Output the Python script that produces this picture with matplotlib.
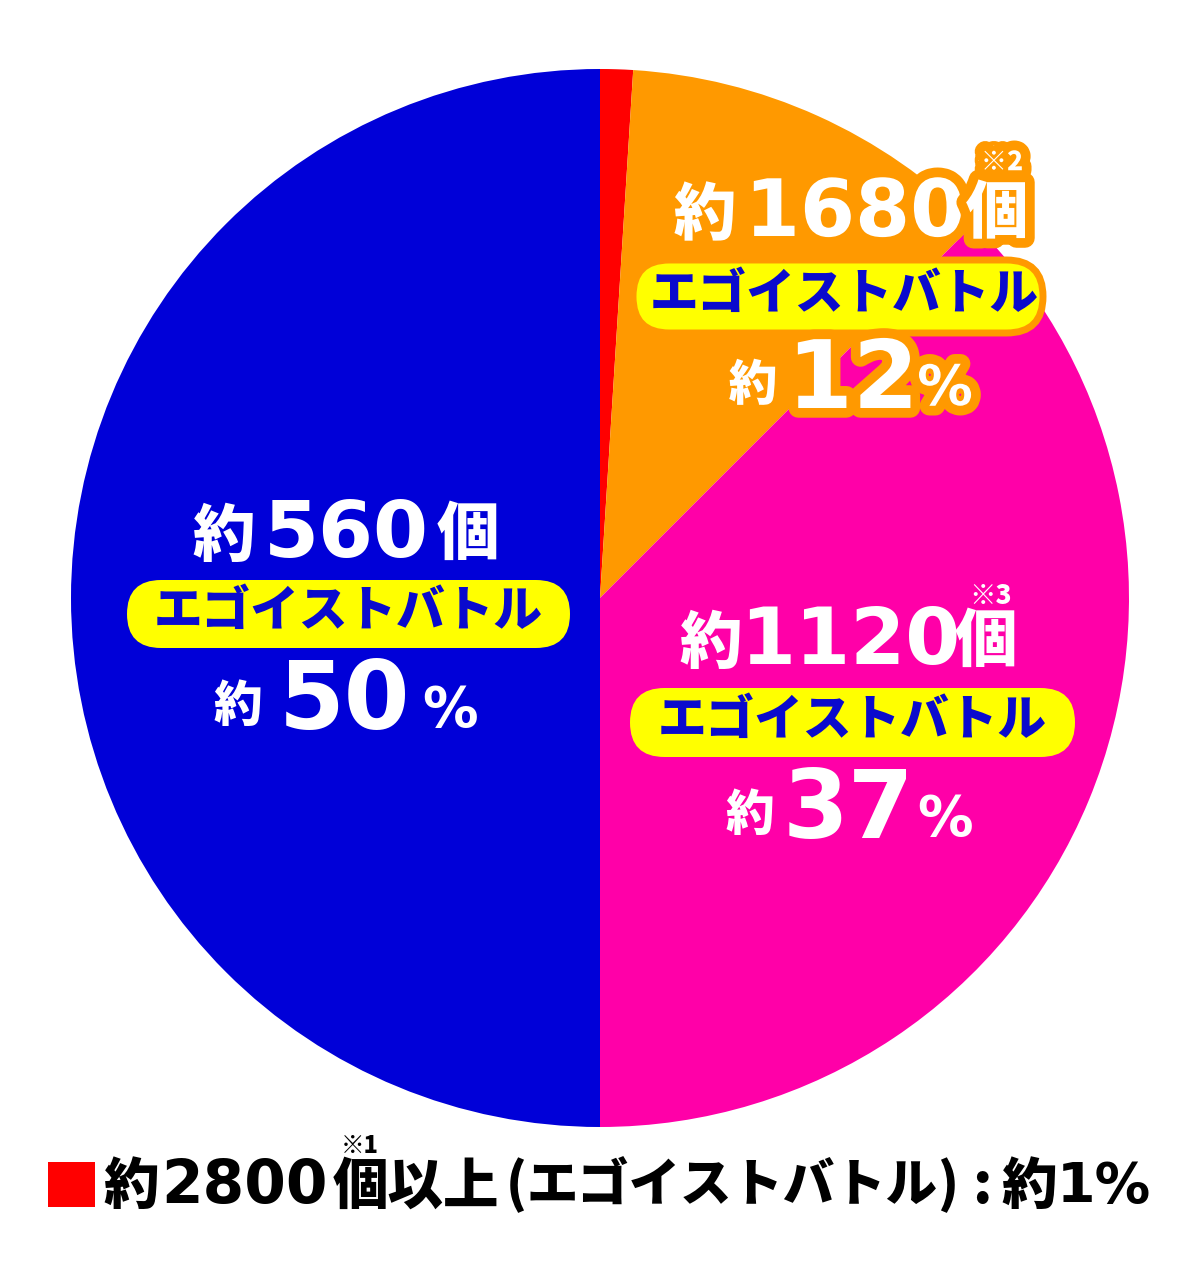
import matplotlib
matplotlib.use("Agg")
import matplotlib.pyplot as plt
from matplotlib.patches import FancyBboxPatch, Rectangle
import matplotlib.patheffects as pe

# data (share of the pie, clockwise from 12 o'clock)
categories = ["2800個以上", "1680個", "1120個", "560個"]
shares = [1, 11.5, 37.5, 50]
counts = ["2800", "1680", "1120", "560"]
pct_labels = ["1", "12", "37", "50"]
notes = ["※1", "※2", "※3", ""]
colors = ["#FF0000", "#FF9900", "#FF00A8", "#0000D8"]
battle = "エゴイストバトル"

W, H = 1200, 1284
CJK = "Noto Sans CJK JP"
NUM = "DejaVu Sans"

fig = plt.figure(figsize=(W / 100, H / 100), dpi=100)
ax = fig.add_axes([0, 0, 1, 1])

ax.pie(shares, colors=colors, startangle=90, counterclock=False,
       center=(600, H - 598), radius=529, wedgeprops=dict(linewidth=0))
ax.set_xlim(0, W)
ax.set_ylim(0, H)
ax.set_aspect("equal")
ax.axis("off")


def put(x, y, s, size, color="white", family=CJK, weight="black", stroke=None, z=5):
    t = ax.text(x, H - y, s, fontsize=size, color=color, family=family,
                weight=weight, ha="center", va="center", zorder=z)
    if stroke:
        t.set_path_effects([pe.withStroke(linewidth=14, foreground=stroke)])
    return t


def pill(x0, x1, y0, y1, edge=None):
    h = y1 - y0
    p = FancyBboxPatch((x0, H - y1), x1 - x0, h,
                       boxstyle=f"round,pad=0,rounding_size={h / 2}",
                       facecolor="#FFFF00", edgecolor=edge or "none",
                       linewidth=5 if edge else 0, zorder=4)
    ax.add_patch(p)
    put((x0 + x1) / 2 + (6 if edge else 0), (y0 + y1) / 2 - 2, battle, 35,
        color="#0A0ACD", z=6)


# label blocks inside the three big slices
blocks = [
    # idx, 約 x, count x, 個 x, row1 y, note xy, pill, 約 x, pct x, % x, row3 y, stroke
    (1, 705, 855, 997, 214, (1002, 162), (633, 1043, 260, 333), 753, 853, 945, 382, "#FF9900"),
    (2, 711, 850, 986, 642, (991, 596), (630, 1075, 688, 757), 750, 848, 945, 812, None),
    (3, 224, 346, 468, 535, None, (127, 570, 580, 648), 238, 345, 450, 703, None),
]

for (i, xa, xc, xk, y1, nxy, box, xb, xp, xq, y3, st) in blocks:
    put(xa, y1 + 2, "約", 45, stroke=st)
    put(xc, y1, counts[i], 57, family=NUM, weight="bold", stroke=st)
    put(xk, y1, "個", 45, stroke=st)
    if nxy:
        put(nxy[0], nxy[1], notes[i], 19, stroke=st)
    pill(*box, edge=st)
    put(xb, y3 + 4, "約", 35, stroke=st)
    put(xp, y3, pct_labels[i], 68, family=NUM, weight="bold", stroke=st)
    put(xq, y3 + 8, "%", 40, family=NUM, weight="bold", stroke=st)

# bottom legend for the tiny red slice
ax.add_patch(Rectangle((48, H - 1207), 47, 45, facecolor=colors[0], edgecolor="none"))
yb = 1187
put(131, yb, "約", 40, color="black")
put(244, yb, counts[0], 43, color="black", family=NUM, weight="bold")
put(360, 1146, notes[0], 17, color="black")
put(416, yb, "個以上", 40, color="black")
put(516, yb - 2, "(", 38, color="black")
put(732, yb, battle, 37, color="black")
put(948, yb - 2, ")", 38, color="black")
put(982, yb, ":", 40, color="black")
put(1029, yb, "約", 40, color="black")
put(1104, yb, pct_labels[0] + "%", 40, color="black", family=NUM, weight="bold")

fig.savefig("out.png", dpi=100)
